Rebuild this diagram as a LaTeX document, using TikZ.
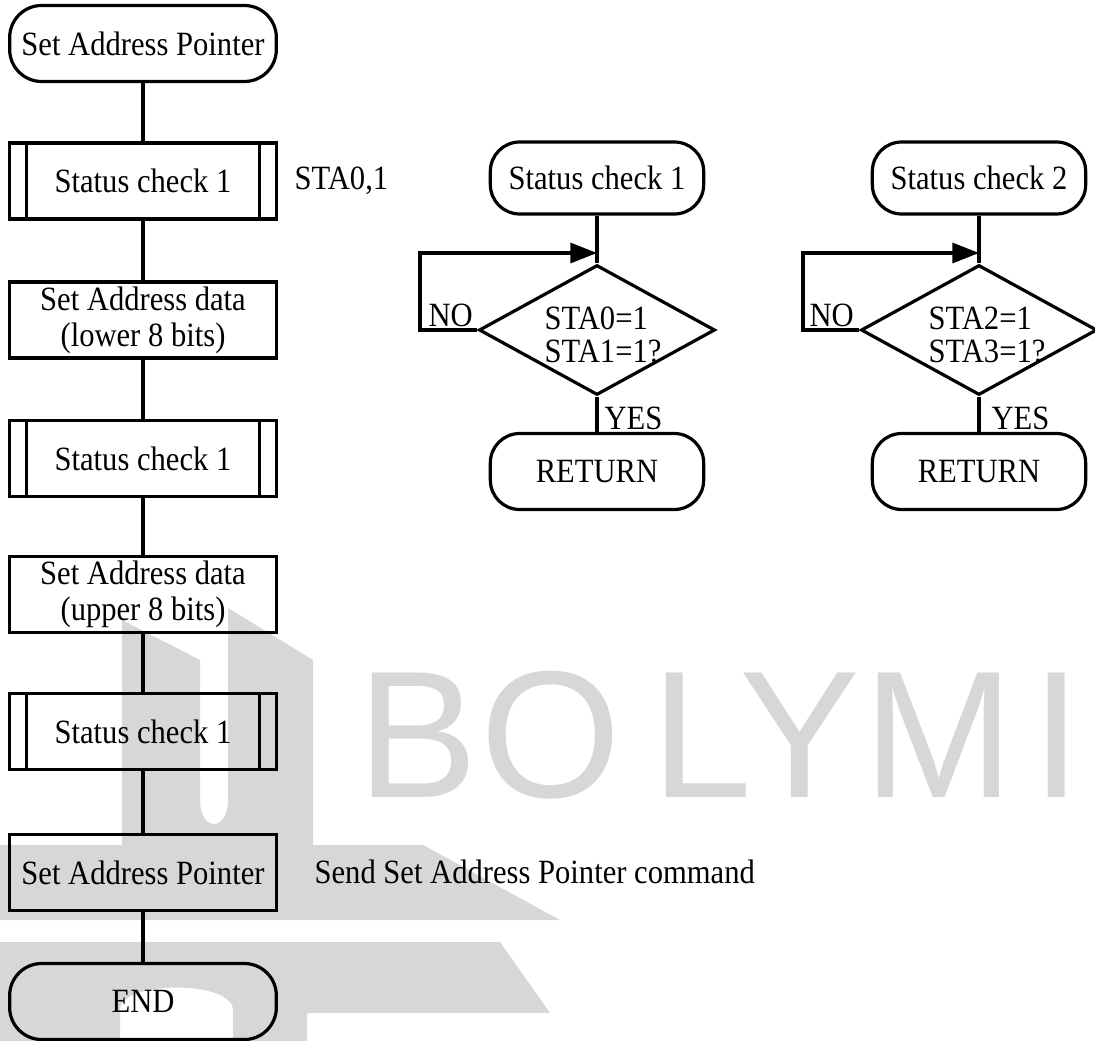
\documentclass[tikz,border=0pt]{standalone}
\usepackage{fontspec}
\setmainfont{Liberation Serif}[FakeStretch=0.9]
\newfontfamily\wmfont{Liberation Sans}
\usetikzlibrary{shapes.geometric,arrows.meta}
\definecolor{wm}{RGB}{215,215,215}
\begin{document}
\begin{tikzpicture}[x=0.75pt,y=-0.75pt,line width=2.4pt,
  every node/.style={font=\fontsize{25.5pt}{27pt}\selectfont,inner sep=0pt},
  term/.style={draw,rounded corners=24pt,minimum width=200pt,minimum height=57pt},
  proc/.style={draw,minimum width=200pt,minimum height=57pt,align=center},
  rterm/.style={draw,rounded corners=22pt,minimum width=160pt,minimum height=54pt},
  dec/.style={draw,diamond,minimum width=177pt,minimum height=97.5pt},
  dtext/.style={align=left,anchor=west,font=\fontsize{25.5pt}{25pt}\selectfont},
  arr/.style={-{Triangle[length=20pt,width=15pt]}},
  wmfill/.style={fill=wm,draw=none},
  wmletter/.style={anchor=base,text=wm,font=\wmfont\fontsize{135.75pt}{140pt}\selectfont}]
\useasboundingbox (0,0) rectangle (1095,1041);
% ---- watermark ----
\fill[wmfill] (122,620) -- (200,660) -- (200,845) -- (122,845) -- cycle;
\fill[wmfill] (228,608) -- (313,660) -- (313,845) -- (228,845) -- cycle;
\fill[wmfill] (200,800) .. controls (200,832) and (228,832) .. (228,800) -- (228,846) -- (200,846) -- cycle;
\fill[wmfill] (0,845) -- (423,845) -- (560,920) -- (0,920) -- cycle;
\fill[wmfill] (0,942) -- (500,942) -- (550,1013) -- (307,1013) -- (307,1041) -- (233,1041) -- (233,1010)
  .. controls (233,980) and (120,980) .. (120,1010) -- (120,1041) -- (0,1041) -- cycle;
\node[wmletter] (wB) at (417.5,797) {B};
\node[wmletter] (wO) at (550.5,797) {O};
\node[wmletter] (wL) at (702,797) {L};
\node[wmletter] (wY) at (799.5,797) {Y};
\node[wmletter] (wM) at (938.5,797) {M};
\node[wmletter] (wI) at (1057,797) {I};
% ---- main flow ----
\node[term] (t0) at (143,43.5) {Set Address Pointer};
\node[proc] (s1) at (143,181) {Status check 1};
\node[proc] (p1) at (143,320) {Set Address data\\(lower 8 bits)};
\node[proc] (s2) at (143,458.5) {Status check 1};
\node[proc] (p2) at (143,594.5) {Set Address data\\(upper 8 bits)};
\node[proc] (s3) at (143,731.5) {Status check 1};
\node[proc] (p3) at (143,872.5) {Set Address Pointer};
\node[term] (t1) at (143,1001.5) {END};
\foreach \s in {s1,s2,s3}{
  \draw ([xshift=14pt]\s.north west) -- ([xshift=14pt]\s.south west);
  \draw ([xshift=-14pt]\s.north east) -- ([xshift=-14pt]\s.south east);
}
\draw (t0) -- (s1);
\draw (s1) -- (p1);
\draw (p1) -- (s2);
\draw (s2) -- (p2);
\draw (p2) -- (s3);
\draw (s3) -- (p3);
\draw (p3) -- (t1);
\node[anchor=west] (n1) at (293,181) {STA0,1};
\node[anchor=west] (n2) at (313,872) {Send Set Address Pointer command};
% ---- status check 1 ----
\node[rterm] (ta) at (597,178) {Status check 1};
\node[dec] (da) at (597,330) {};
\node[dtext] (xa) at (543,335) {STA0=1\\STA1=1?};
\node[rterm,minimum height=57pt] (ra) at (597,471.5) {RETURN};
\coordinate (ja) at (597,253);
\draw (ta) -- (da);
\draw (da) -- (ra);
\draw[arr] (da.west) -| (420,253) -- (ja);
\node[anchor=base west] (noa) at (427,326) {NO};
\node[anchor=base west] (ya) at (603,429) {YES};
% ---- status check 2 ----
\node[rterm] (tb) at (979,178) {Status check 2};
\node[dec] (db) at (979,330) {};
\node[dtext] (xb) at (927,335) {STA2=1\\STA3=1?};
\node[rterm,minimum height=57pt] (rb) at (979,471.5) {RETURN};
\coordinate (jb) at (979,253);
\draw (tb) -- (db);
\draw (db) -- (rb);
\draw[arr] (db.west) -| (803,253) -- (jb);
\node[anchor=base west] (nob) at (808,326) {NO};
\node[anchor=base west] (yb) at (990,429) {YES};
\end{tikzpicture}
\end{document}
